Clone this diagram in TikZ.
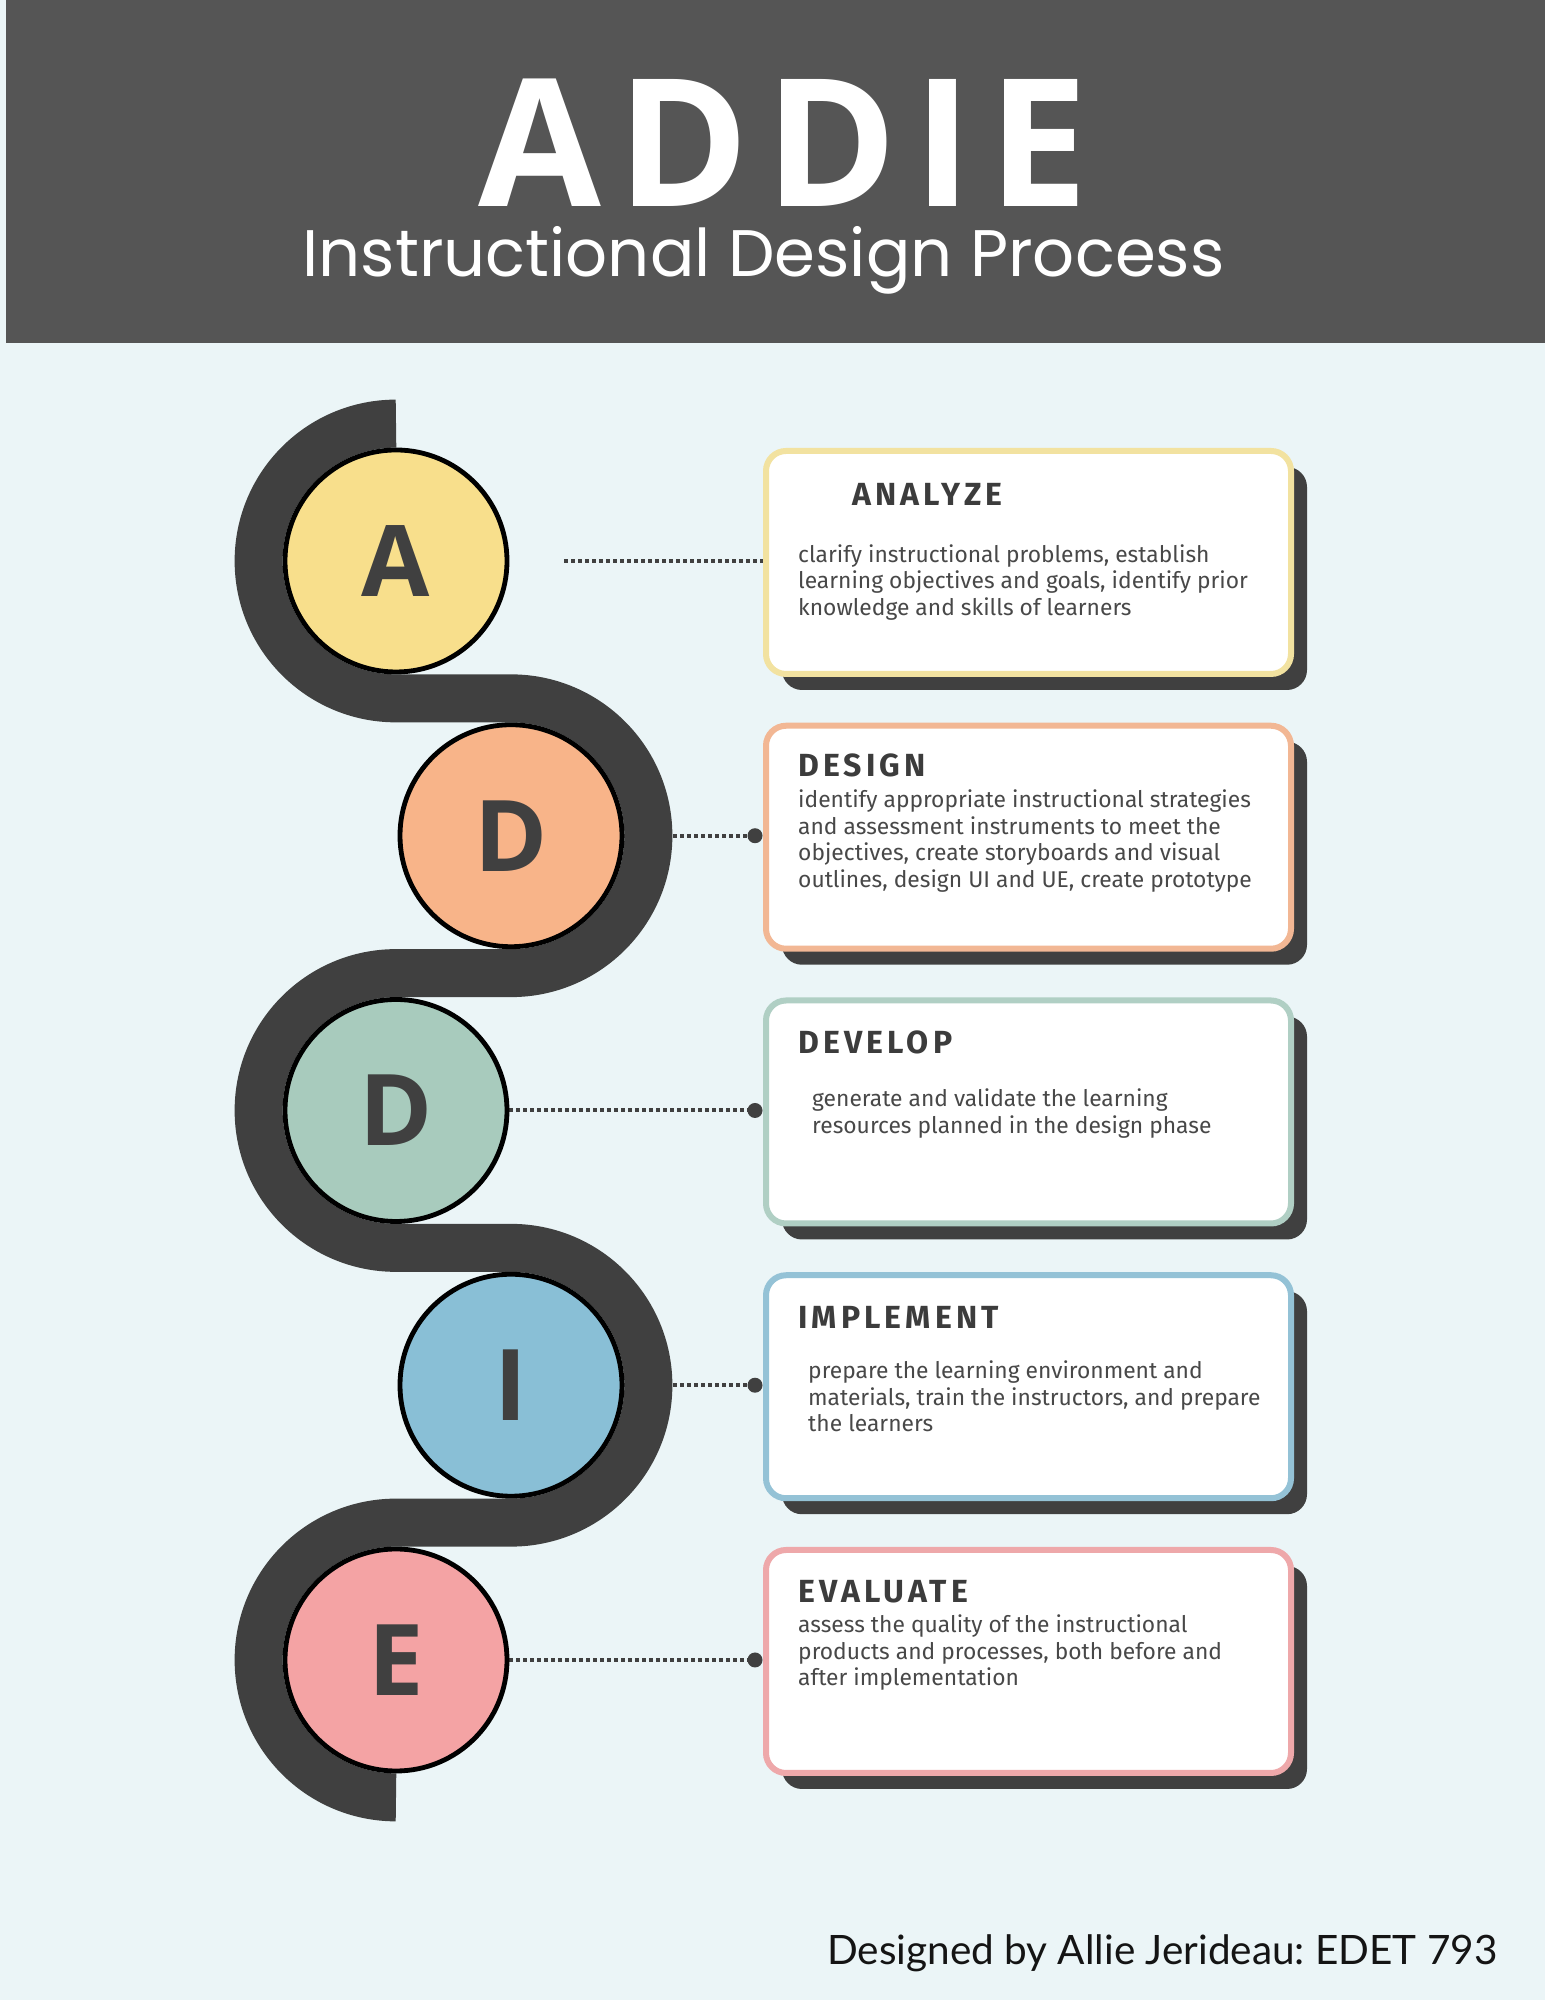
\documentclass[tikz,border=0pt]{standalone}
\usepackage{fontspec}
\usetikzlibrary{calc,shadows}

\newfontfamily\bodyfont{Fira Sans}
\newfontfamily\stagefont[LetterSpace=13]{Fira Sans}
\newfontfamily\bigfont[LetterSpace=9]{Open Sans}
\newfontfamily\letterfont{Open Sans}
\newfontfamily\subfont{Poppins}
\newfontfamily\footfont{Lato}

\definecolor{pagebg}{RGB}{235,245,247}
\definecolor{headbg}{RGB}{85,85,85}
\definecolor{ink}{RGB}{64,64,64}
\definecolor{txt}{RGB}{72,72,72}
\definecolor{headtxt}{RGB}{60,60,60}
\definecolor{footink}{RGB}{20,20,20}
\definecolor{fillA}{RGB}{248,223,140}
\definecolor{fillD}{RGB}{248,180,137}
\definecolor{fillV}{RGB}{168,203,189}
\definecolor{fillI}{RGB}{137,191,214}
\definecolor{fillE}{RGB}{244,163,164}
\definecolor{lineA}{RGB}{242,226,160}
\definecolor{lineD}{RGB}{242,183,148}
\definecolor{lineV}{RGB}{176,207,196}
\definecolor{lineI}{RGB}{148,194,214}
\definecolor{lineE}{RGB}{238,168,170}

\pgfdeclarelayer{bg}
\pgfdeclarelayer{lines}
\pgfdeclarelayer{band}
\pgfsetlayers{bg,lines,band,main}

\tikzset{
  stage/.style={circle, draw=black, line width=4.8pt, minimum size=222pt,
    inner sep=0pt, text=ink, font=\letterfont\bfseries\fontsize{99}{99}\selectfont},
  card/.style={rectangle, rounded corners=20pt, fill=white, line width=6pt,
    minimum width=525pt, minimum height=223pt, inner sep=0pt,
    drop shadow={shadow xshift=16pt, shadow yshift=-16pt, fill=ink, opacity=1}},
  stagetitle/.style={anchor=base west, inner sep=0pt, text=headtxt,
    font=\stagefont\bfseries\fontsize{32}{32}\selectfont},
  stagebody/.style={anchor=base west, inner sep=0pt, text=txt,
    font=\bodyfont\fontsize{22.8}{26.5}\selectfont},
  dotline/.style={ink, line width=4pt, dash pattern=on 3.6pt off 3.4pt},
  enddot/.style={fill=ink}
}

\begin{document}
\begin{tikzpicture}[x=1pt,y=1pt]
\useasboundingbox (0,0) rectangle (1545,2000);

\begin{pgfonlayer}{bg}
  \fill[pagebg] (0,0) rectangle (1545,2000);
  \fill[headbg] (6,1657) rectangle (1545,2000);
\end{pgfonlayer}

% header
\node[anchor=base, text=white, inner sep=0pt,
  font=\bigfont\bfseries\fontsize{178}{178}\selectfont] (ttl) at (783.5,1793) {ADDIE};
\node[anchor=base, text=white, inner sep=0pt,
  font=\subfont\fontsize{65.8}{65.8}\selectfont] (sub) at (763.5,1723) {Instructional Design Process};

% letter discs
\node[stage, fill=fillA] (cA) at (396,1439) {A};
\node[stage, fill=fillD] (cD) at (511,1164.25) {D};
\node[stage, fill=fillV] (cV) at (396,889.5) {D};
\node[stage, fill=fillI] (cI) at (511,614.75) {I};
\node[stage, fill=fillE] (cE) at (396,340) {E};

% winding band behind the discs
\begin{pgfonlayer}{band}
  \draw[ink, line width=48pt]
    ($(cA.center)+(0,137.375)$)
    arc[start angle=90, end angle=270, radius=137.375] -- ++(115,0)
    arc[start angle=90, end angle=-90, radius=137.375] -- ++(-115,0)
    arc[start angle=90, end angle=270, radius=137.375] -- ++(115,0)
    arc[start angle=90, end angle=-90, radius=137.375] -- ++(-115,0)
    arc[start angle=90, end angle=270, radius=137.375];
\end{pgfonlayer}

% description cards
\node[card, draw=lineA] (bA) at (1028.5,1437.5) {};
\node[card, draw=lineD] (bD) at (1028.5,1162.75) {};
\node[card, draw=lineV] (bV) at (1028.5,888) {};
\node[card, draw=lineI] (bI) at (1028.5,613.25) {};
\node[card, draw=lineE] (bE) at (1028.5,338.5) {};

\node[stagetitle] (tA) at (852,1494) {ANALYZE};
\node[stagetitle] (tD) at (798,1223) {DESIGN};
\node[stagetitle] (tV) at (798,946) {DEVELOP};
\node[stagetitle] (tI) at (798,671) {IMPLEMENT};
\node[stagetitle] (tE) at (798,397) {EVALUATE};

\node[stagebody] (xA) at (798,1437.5) {\parbox[t]{480pt}{\raggedright
  clarify instructional problems, establish\\
  learning objectives and goals, identify prior\\
  knowledge and skills of learners}};
\node[stagebody] (xD) at (798,1192) {\parbox[t]{480pt}{\raggedright
  identify appropriate instructional strategies\\
  and assessment instruments to meet the\\
  objectives, create storyboards and visual\\
  outlines, design UI and UE, create prototype}};
\node[stagebody] (xV) at (812,893) {\parbox[t]{480pt}{\raggedright
  generate and validate the learning\\
  resources planned in the design phase}};
\node[stagebody] (xI) at (808,621) {\parbox[t]{480pt}{\raggedright
  prepare the learning environment and\\
  materials, train the instructors, and prepare\\
  the learners}};
\node[stagebody] (xE) at (798,367) {\parbox[t]{480pt}{\raggedright
  assess the quality of the instructional\\
  products and processes, both before and\\
  after implementation}};

% dotted leaders from discs to cards
\coordinate (sA) at ($(cA.east)+(55,0)$);
\coordinate (pD) at ($(cD -| bD.west)+(-8,0)$);
\coordinate (pV) at ($(cV -| bV.west)+(-8,0)$);
\coordinate (pI) at ($(cI -| bI.west)+(-8,0)$);
\coordinate (pE) at ($(cE -| bE.west)+(-8,0)$);
\begin{pgfonlayer}{lines}
  \draw[dotline] (sA) -- (cA -| bA.west);
  \draw[dotline] (cD.east) -- (pD);
  \draw[dotline] (cV.east) -- (pV);
  \draw[dotline] (cI.east) -- (pI);
  \draw[dotline] (cE.east) -- (pE);
  \fill[enddot] (pD) circle[radius=7.5];
  \fill[enddot] (pV) circle[radius=7.5];
  \fill[enddot] (pI) circle[radius=7.5];
  \fill[enddot] (pE) circle[radius=7.5];
\end{pgfonlayer}

% credit line
\node[anchor=base west, inner sep=0pt, text=footink,
  font=\footfont\fontsize{40.5}{40.5}\selectfont] (foot) at (827,35) {\frenchspacing Designed by Allie Jerideau: EDET 793};
\end{tikzpicture}
\end{document}
